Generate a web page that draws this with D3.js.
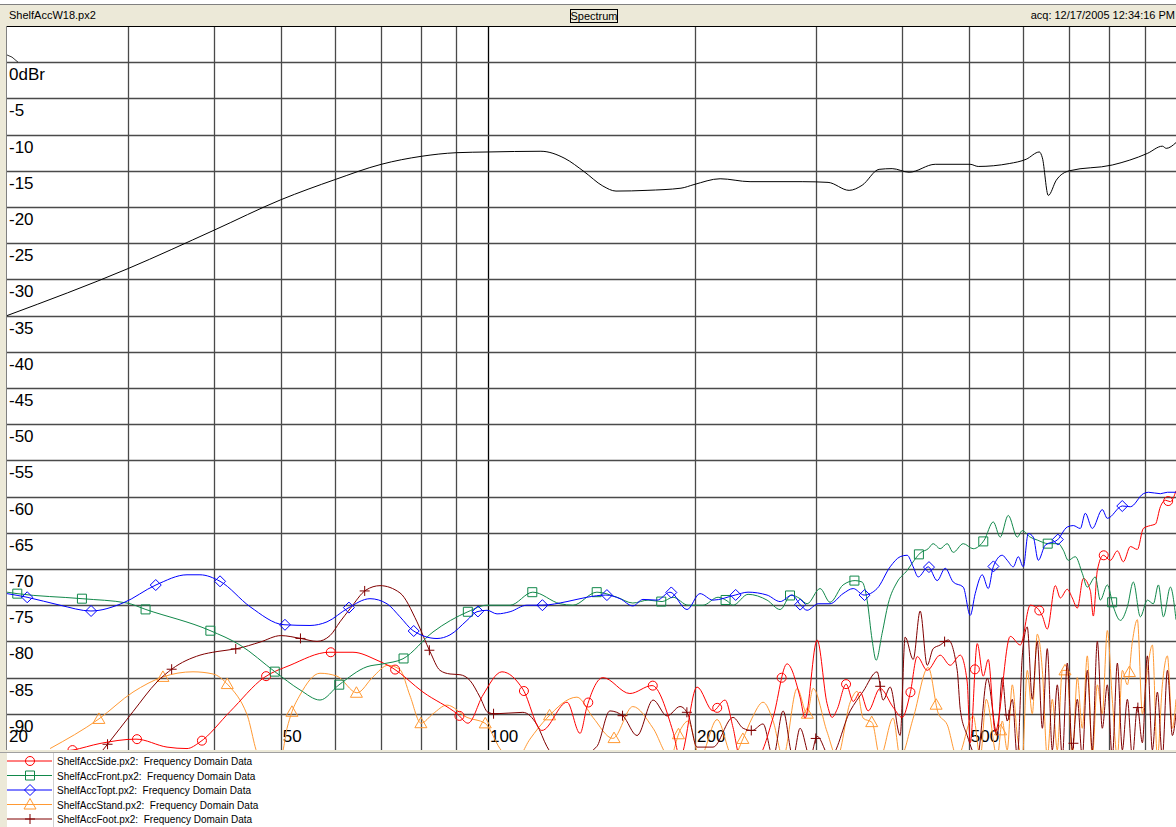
<!DOCTYPE html>
<html>
<head>
  <title>ShelfAccW18 Spectrum</title>
  <script src="https://d3js.org/d3.v7.min.js"></script>
  <style>
    body { margin: 0; background: #fff; }
    text { font-family: "Liberation Sans", Arial, sans-serif; white-space: pre; }
  </style>
</head>
<body>
  <div id="chart"></div>
  <script>
    // grid / tick values
    const gridFreqs = [30, 40, 50, 60, 70, 80, 90, 100, 200, 300, 400, 500, 600, 700, 800, 900];
    const freqLabels = [20, 50, 100, 200, 500];
    const dbTicks = [0, -5, -10, -15, -20, -25, -30, -35, -40, -45, -50, -55, -60, -65, -70, -75, -80, -85, -90];

    // reference trace (black, no legend entry)
    const refFreq = [20, 30, 40, 50, 60, 70, 80, 90, 100, 119.4, 129.4, 137.9, 146.9, 153.5, 170.3, 190.8, 199.3, 217.5, 240.4, 286.2, 312.1, 334.9, 349.8, 370.3, 386.8, 409.4, 446.7, 502, 515.9, 572.3, 605.9, 633, 639.4, 652.2, 669.9, 699.7, 808, 908.6, 955.4, 968, 1000];
    const refDb = [-35.0, -28.5, -23.2, -19.0, -16.2, -14.1, -13.0, -12.5, -12.4, -12.3, -13.3, -15.1, -17.1, -17.8, -17.7, -17.4, -16.9, -16.1, -16.5, -16.5, -16.6, -17.7, -17.0, -14.8, -14.7, -15.2, -14.1, -14.1, -14.4, -14.0, -13.4, -12.4, -13.2, -18.4, -16.3, -15.0, -14.2, -12.6, -11.6, -11.9, -11.1];

    // ShelfAccSide (red)
    const sideFreq = [22.33, 23.64, 24.94, 27.30, 30.80, 34.17, 36.53, 38.15, 42.18, 47.26, 51.56, 58.75, 63.66, 68.99, 72.77, 80.46, 90.46, 93.54, 98.36, 104.8, 112.4, 119.8, 130.3, 136.1, 139.3, 146.9, 160.8, 173.2, 185.8, 190.2, 201.3, 212.4, 221.1, 227.1, 232.5, 246.1, 259.7, 272.1, 284.2, 289.0, 300.9, 311.1, 316.4, 321.7, 331.6, 339.5, 347.5, 356.9, 371.5, 388.1, 399.9, 410.8, 420.6, 434.9, 454.2, 469.7, 485.8, 497.2, 502.3, 514.2, 524.6, 533.5, 546.1, 574.3, 593.9, 614.0, 628.6, 639.4, 650, 667.7, 679, 695, 706.8, 718.7, 733.3, 750.7, 758.3, 768.5, 784.1, 802.7, 821.8, 838.4, 858.4, 878.7, 896.5, 917.8, 933.3, 949.1, 965.1, 981.4, 1000];
    const sideDb = [-96.5, -95.3, -95.0, -94.1, -93.5, -94.6, -94.8, -93.9, -89.7, -85.0, -83.3, -81.5, -81.5, -82.6, -83.7, -87.0, -90.1, -91.3, -87.4, -84.2, -86.6, -92.3, -88.4, -92.7, -89.0, -85.0, -87.2, -86.1, -92.5, -96.0, -86.3, -89.6, -88.1, -91.9, -96.0, -96.0, -90.5, -83.1, -87.7, -90.6, -79.8, -88.6, -90.5, -89.4, -85.9, -88.3, -87.0, -89.6, -86.5, -89.1, -90.5, -87.2, -82.1, -84.0, -81.9, -83.3, -81.9, -85.6, -94.0, -80.3, -84.8, -82.5, -92.5, -79.3, -80.5, -75.0, -75.4, -76.5, -78.3, -72.3, -74.0, -72.8, -74.0, -75.4, -71.3, -73.0, -76.5, -70.2, -68.1, -68.8, -67.5, -69.0, -66.9, -67.3, -64.4, -64.0, -63.8, -61.4, -60.5, -60.7, -59.2];

    // ShelfAccFront (green)
    const frontFreq = [20, 20.68, 25.71, 29.89, 31.84, 39.45, 43.62, 49.04, 53.32, 57.01, 60.75, 66.72, 70.38, 75.25, 83.2, 93.54, 99.69, 107.7, 116.2, 127.3, 132.9, 144.0, 154.0, 162.4, 170.9, 179.1, 185.8, 195.4, 205.4, 216.0, 222.6, 227.1, 238.8, 254.5, 265.9, 275.8, 284.2, 291.0, 303.9, 314.2, 328.2, 341.7, 349.8, 355.7, 361.7, 366.6, 374.0, 381.7, 393.3, 406.7, 417.8, 424.8, 436.4, 443.7, 454.2, 465, 474.5, 490.7, 507.3, 526.4, 542.5, 555.3, 570.4, 587.9, 597.9, 614.0, 628.6, 652.2, 674.5, 685.8, 697.3, 713.9, 730.8, 743.2, 763.4, 776.2, 794.7, 810.8, 830.1, 849.8, 867, 887.5, 908.6, 927, 942.8, 958.7, 981.4, 1000];
    const frontDb = [-73.2, -73.4, -74.1, -74.7, -75.6, -78.5, -80.5, -84.2, -86.7, -88.1, -86.0, -83.5, -83.1, -82.4, -78.7, -75.9, -75.0, -75.0, -73.2, -74.8, -75.0, -73.2, -73.9, -74.7, -74.3, -74.5, -73.9, -75.0, -75.0, -73.9, -74.4, -75.0, -73.5, -74.3, -75.6, -73.6, -74.1, -74.8, -72.7, -74.6, -72.2, -71.6, -71.8, -74.3, -79.8, -82.6, -78.9, -74.8, -71.8, -70.2, -68.6, -67.8, -67.2, -66.5, -67.2, -66.5, -67.7, -66.5, -67.2, -66.0, -63.5, -65.6, -62.6, -65.6, -64.7, -65.6, -66.0, -66.5, -66.5, -67.4, -68.8, -68.3, -70.6, -72.5, -71.1, -74.3, -72.2, -75.2, -77.1, -75.2, -71.8, -76.6, -74.3, -74.8, -72.2, -76.6, -72.5, -77.0];

    // ShelfAccTopt (blue)
    const toptFreq = [20, 21.39, 23.88, 26.49, 29.48, 32.93, 36.53, 38.15, 40.80, 45.10, 50.54, 55.13, 58.36, 62.61, 67.39, 71.33, 74.50, 77.81, 84.33, 88.08, 93.23, 96.41, 99.69, 103.1, 107.7, 113.9, 119.8, 130.3, 139.3, 148.4, 155.6, 162.4, 168.0, 176.1, 183.9, 194.7, 203.3, 212.4, 228.7, 238.8, 254.5, 265.9, 276.7, 284.2, 291.0, 301.9, 314.2, 328.2, 339.5, 352.1, 367.8, 384.2, 397.3, 406.7, 415, 422, 436.4, 449.7, 461.9, 474.5, 490.7, 502.3, 510.7, 522.9, 533.5, 542.5, 559.1, 568.5, 580.1, 589.9, 599.9, 609.9, 620.3, 630.7, 645.7, 672.2, 695, 709.1, 726, 738.2, 755.7, 781.4, 794.7, 835.6, 858.4, 896.5, 911.7, 949.1, 971.6, 1000];
    const toptDb = [-73.4, -73.9, -75.0, -75.8, -74.7, -72.2, -70.8, -70.8, -71.7, -75.2, -77.7, -77.8, -77.3, -75.4, -74.1, -74.8, -76.6, -78.5, -79.6, -79.1, -77.1, -75.9, -75.7, -76.2, -75.9, -75.0, -75.0, -74.5, -73.9, -73.6, -74.1, -75.1, -74.2, -74.3, -73.2, -75.6, -73.4, -74.3, -73.6, -73.2, -73.6, -74.5, -73.6, -74.9, -75.7, -74.8, -74.8, -73.4, -72.7, -73.6, -72.7, -69.7, -68.3, -68.1, -69.7, -71.1, -69.7, -71.6, -69.9, -71.8, -72.5, -76.4, -73.4, -70.8, -72.7, -69.7, -68.1, -68.8, -69.7, -68.3, -69.7, -65.1, -65.6, -68.8, -66.7, -66.0, -64.2, -64.0, -64.4, -62.3, -64.4, -61.8, -63.0, -61.3, -61.4, -59.6, -59.4, -59.6, -59.4, -59.4];

    // ShelfAccStand (orange)
    const standFreq = [23.10, 27.21, 30.49, 33.71, 37.27, 39.85, 41.90, 44.65, 46.64, 50, 51.05, 51.91, 53.32, 57.01, 60.34, 64.52, 68.07, 71.57, 74.50, 77.04, 79.93, 83.2, 87.20, 93.23, 99.02, 104.1, 108.8, 115.1, 121.8, 134.7, 142.1, 151.9, 162.4, 173.8, 183.9, 190.2, 195.4, 203.3, 215.3, 227.1, 234.9, 242, 251.1, 259.7, 268.5, 281.4, 291.0, 296.9, 311.1, 321.7, 336.1, 344.0, 351.0, 361.7, 371.5, 388.1, 397.3, 415.0, 436.4, 451.2, 465, 480.9, 507.3, 519.4, 530, 549.8, 559.1, 568.5, 578.2, 587.9, 597.9, 607.9, 618.2, 628.6, 639.4, 650, 661, 672.2, 683.6, 695, 706.8, 718.7, 730.8, 743.2, 755.7, 768.5, 781.4, 794.7, 808, 821.8, 835.6, 849.8, 864.2, 878.7, 893.6, 908.6, 924, 939.6, 955.4, 971.6, 988, 1000];
    const standDb = [-94.8, -90.7, -87.0, -84.9, -84.2, -84.5, -86.0, -90.1, -96.0, -96.0, -92.0, -89.7, -87.4, -84.4, -84.8, -87.1, -84.9, -83.3, -83.9, -87.5, -91.3, -90.0, -88.8, -90.5, -91.3, -94.8, -97.0, -93.5, -90.6, -87.7, -90.5, -93.4, -89.0, -92.0, -96.0, -92.3, -91.0, -96.0, -90.8, -96.0, -93.4, -90.6, -88.4, -91.0, -96.0, -86.5, -90.0, -86.5, -92.5, -96.0, -88.4, -86.9, -90.6, -91.2, -96.0, -90.6, -96.0, -90.6, -83.6, -89.9, -91.5, -96.0, -90.3, -96.0, -88.0, -96.0, -91.0, -95.0, -86.0, -93.0, -96.0, -84.0, -90.0, -79.0, -84.0, -96.0, -88.0, -95.0, -84.0, -84.0, -96.0, -85.0, -92.0, -82.0, -96.0, -86.0, -90.0, -78.5, -88.0, -96.0, -84.0, -86.0, -80.0, -77.0, -90.0, -84.0, -80.5, -96.0, -86.0, -82.0, -92.0, -88.0];

    // ShelfAccFoot (dark red)
    const footFreq = [27.30, 27.95, 30.49, 33.04, 34.75, 38.15, 40.39, 43.18, 46.64, 50, 53.50, 56.44, 58.95, 60.95, 63.03, 66.5, 69.69, 74.50, 78.87, 82.37, 85.18, 88.08, 91.07, 94.17, 97.38, 100, 102.4, 112.4, 117.8, 121.8, 128.6, 144, 150.4, 157.1, 164.7, 173.8, 182.1, 190.2, 195.4, 201.3, 212.4, 227.1, 234.9, 242, 251.1, 259.7, 268.5, 277.6, 284.2, 294, 300.9, 314.2, 336.1, 351.0, 367.8, 375.3, 384.2, 397.3, 404.0, 415.0, 424.8, 434.9, 443.7, 454.2, 466.6, 480.9, 485.8, 497.2, 514.2, 531.7, 549.8, 559.1, 568.5, 578.2, 587.9, 597.9, 607.9, 618.2, 628.6, 639.4, 650, 661, 672.2, 683.6, 695, 706.8, 718.7, 730.8, 743.2, 755.7, 768.5, 781.4, 794.7, 808, 821.8, 835.6, 849.8, 864.2, 878.7, 893.6, 908.6, 924, 939.6, 955.4, 971.6, 988, 1000];
    const footDb = [-95.5, -94.3, -89.7, -85.6, -83.8, -81.9, -81.4, -81.0, -80.1, -79.2, -79.6, -80.0, -79.2, -77.3, -75.5, -72.9, -72.3, -73.3, -77.3, -81.4, -84.0, -84.5, -84.6, -85.4, -87.7, -89.8, -90.0, -89.8, -91.5, -94.5, -97.0, -94.5, -89.6, -90.3, -93.0, -88.1, -90.3, -89.0, -90.1, -94.6, -94.6, -90.5, -92.0, -92.3, -91.4, -96.0, -89.6, -96.0, -92.0, -96.0, -93.1, -96.0, -89.6, -86.9, -84.2, -88.1, -86.3, -93.0, -79.4, -82.5, -75.8, -83.3, -81.0, -80.5, -79.8, -84.0, -89.4, -93.0, -96.0, -85.1, -93.0, -85.0, -91.0, -88.0, -96.0, -82.0, -78.0, -88.0, -80.0, -92.0, -81.0, -95.0, -86.0, -96.0, -83.0, -95.0, -88.0, -96.0, -84.0, -95.0, -80.0, -92.0, -86.0, -96.0, -83.0, -95.0, -88.0, -96.0, -89.0, -94.0, -82.0, -95.0, -87.0, -96.0, -84.0, -93.0, -90.0];

    // marker frequencies (every ~0.094 decade, offset per trace)
    const sideMarks = [20.1, 24.9, 30.9, 38.4, 47.6, 59.1, 73.3, 90.9, 112.8, 139.9, 173.6, 215.4, 267.2, 331.5, 411.2, 510.2, 632.9, 785.2, 974.1];
    const frontMarks = [20.7, 25.7, 31.8, 39.5, 49.0, 60.8, 75.4, 93.5, 116.0, 143.9, 178.6, 221.5, 274.8, 340.9, 423.0, 524.7, 651.0, 807.6];
    const toptMarks = [21.4, 26.5, 32.9, 40.8, 50.7, 62.8, 78.0, 96.7, 120.0, 148.9, 184.7, 229.1, 284.3, 352.7, 437.5, 542.8, 673.4, 835.4];
    const standMarks = [21.9, 27.2, 33.7, 41.8, 51.9, 64.4, 79.9, 99.1, 122.9, 152.5, 189.2, 234.7, 291.2, 361.2, 448.1, 556.0, 689.7, 855.7];
    const footMarks = [22.6, 28.0, 34.7, 43.0, 53.4, 66.2, 82.2, 101.9, 126.5, 156.9, 194.6, 241.4, 299.5, 371.6, 461.0, 571.9, 709.5, 880.2];

    const series = [
      {name: "ShelfAccSide.px2:  Frequency Domain Data", freq: sideFreq, db: sideDb, marks: sideMarks, color: "#ff0000", symbol: "circle"},
      {name: "ShelfAccFront.px2:  Frequency Domain Data", freq: frontFreq, db: frontDb, marks: frontMarks, color: "#11884a", symbol: "square"},
      {name: "ShelfAccTopt.px2:  Frequency Domain Data", freq: toptFreq, db: toptDb, marks: toptMarks, color: "#0000ff", symbol: "diamond"},
      {name: "ShelfAccStand.px2:  Frequency Domain Data", freq: standFreq, db: standDb, marks: standMarks, color: "#ff9933", symbol: "triangle"},
      {name: "ShelfAccFoot.px2:  Frequency Domain Data", freq: footFreq, db: footDb, marks: footMarks, color: "#800000", symbol: "cross"}
    ];

    const W = 1176, H = 827;
    const plot = {left: 7, right: 1176, top: 26, bottom: 750};

    const svg = d3.select("#chart").append("svg")
      .attr("width", W).attr("height", H);

    // window chrome
    svg.append("rect").attr("x", 0).attr("y", 0).attr("width", W).attr("height", H).attr("fill", "#ece9d8");
    svg.append("rect").attr("x", 0).attr("y", 0).attr("width", W).attr("height", 4).attr("fill", "#fff");
    svg.append("line").attr("x1", 0).attr("x2", W).attr("y1", 4.5).attr("y2", 4.5).attr("stroke", "#808080");

    svg.append("text").attr("x", 9).attr("y", 19).attr("font-size", 11).text("ShelfAccW18.px2");
    svg.append("rect").attr("x", 570.5).attr("y", 9.5).attr("width", 47).attr("height", 13)
      .attr("fill", "none").attr("stroke", "#000");
    svg.append("text").attr("x", 594).attr("y", 20).attr("font-size", 11).attr("text-anchor", "middle").text("Spectrum");
    svg.append("text").attr("x", 1175).attr("y", 19).attr("font-size", 11).attr("text-anchor", "end")
      .text("acq: 12/17/2005 12:34:16 PM");

    // plot background
    svg.append("rect").attr("x", plot.left).attr("y", plot.top)
      .attr("width", plot.right - plot.left).attr("height", plot.bottom - plot.top).attr("fill", "#fff");
    svg.append("line").attr("x1", plot.left - 0.5).attr("x2", plot.left - 0.5)
      .attr("y1", plot.top).attr("y2", plot.bottom).attr("stroke", "#808080");

    const x = d3.scaleLog().domain([20, 1000]).range([plot.left, plot.right]);
    const y = d3.scaleLinear().domain([5, -95]).range([plot.top, plot.bottom]);

    // grid
    const grid = svg.append("g");
    grid.selectAll(".vg").data(gridFreqs).enter().append("line")
      .attr("x1", d => Math.round(x(d)) + 0.5).attr("x2", d => Math.round(x(d)) + 0.5)
      .attr("y1", plot.top).attr("y2", plot.bottom)
      .attr("stroke", d => d === 100 ? "#000" : "#4a4a4a").attr("stroke-width", 1.3);
    grid.selectAll(".hg").data(dbTicks).enter().append("line")
      .attr("x1", plot.left).attr("x2", plot.right)
      .attr("y1", d => Math.round(y(d)) + 0.5).attr("y2", d => Math.round(y(d)) + 0.5)
      .attr("stroke", "#4a4a4a").attr("stroke-width", 1.3);
    grid.append("line").attr("x1", plot.left).attr("x2", plot.right)
      .attr("y1", plot.top + 0.5).attr("y2", plot.top + 0.5).attr("stroke", "#000");

    // small reference mark at top-left
    svg.append("path")
      .attr("d", `M${x(20)},${y(1)} L${x(20) + 5},${y(0.7)} L${x(20) + 11},${y(0)}`)
      .attr("fill", "none").attr("stroke", "#000").attr("stroke-width", 0.8);

    // axis labels
    svg.append("g").selectAll("text").data(dbTicks).enter().append("text")
      .attr("x", plot.left + 2).attr("y", d => y(d) + 18)
      .attr("font-size", 17)
      .text(d => d === 0 ? "0dBr" : d);
    svg.append("g").selectAll("text").data(freqLabels).enter().append("text")
      .attr("x", d => x(d) + 2).attr("y", 742)
      .attr("font-size", 17)
      .text(d => d);

    // traces
    svg.append("clipPath").attr("id", "clip").append("rect")
      .attr("x", plot.left).attr("y", plot.top)
      .attr("width", plot.right - plot.left).attr("height", plot.bottom - plot.top);
    const traces = svg.append("g").attr("clip-path", "url(#clip)");

    const line = d3.line().x(d => x(d[0])).y(d => y(d[1])).curve(d3.curveMonotoneX);

    function symbolPath(type, cx, cy) {
      if (type === "circle") return `M${cx - 4.5},${cy} a4.5,4.5 0 1,0 9,0 a4.5,4.5 0 1,0 -9,0`;
      if (type === "square") return `M${cx - 4.5},${cy - 4.5} h9 v9 h-9 Z`;
      if (type === "diamond") return `M${cx},${cy - 5.5} L${cx + 5.5},${cy} L${cx},${cy + 5.5} L${cx - 5.5},${cy} Z`;
      if (type === "triangle") return `M${cx},${cy - 6} L${cx + 6},${cy + 4.5} L${cx - 6},${cy + 4.5} Z`;
      return `M${cx - 5},${cy} H${cx + 5} M${cx},${cy - 5} V${cy + 5}`;
    }

    // find the point of a drawn path at a given x
    function pointAtX(node, px) {
      const total = node.getTotalLength();
      let lo = 0, hi = total;
      for (let i = 0; i < 40; i++) {
        const mid = (lo + hi) / 2;
        if (node.getPointAtLength(mid).x < px) lo = mid; else hi = mid;
      }
      return node.getPointAtLength((lo + hi) / 2);
    }

    const refPts = refFreq.map((f, i) => [f, refDb[i]]);
    traces.append("path").attr("d", line(refPts))
      .attr("fill", "none").attr("stroke", "#000").attr("stroke-width", 1);

    // draw in an order so blue/green sit above the low traces
    const order = [3, 4, 0, 1, 2];
    order.forEach(k => {
      const s = series[k];
      const pts = s.freq.map((f, i) => [f, s.db[i]]);
      const p = traces.append("path").attr("d", line(pts))
        .attr("fill", "none").attr("stroke", s.color).attr("stroke-width", 1);
      const node = p.node();
      const minX = x(s.freq[0]), maxX = x(s.freq[s.freq.length - 1]);
      s.marks.forEach(f => {
        const px = x(f);
        if (px < minX || px > maxX) return;
        const pt = pointAtX(node, px);
        traces.append("path").attr("d", symbolPath(s.symbol, pt.x, pt.y))
          .attr("fill", "none").attr("stroke", s.color).attr("stroke-width", 1);
      });
    });

    // legend
    const legTop = 753;
    svg.append("rect").attr("x", plot.left).attr("y", legTop)
      .attr("width", W - plot.left).attr("height", H - legTop).attr("fill", "#fff");
    svg.append("line").attr("x1", 0).attr("x2", W).attr("y1", legTop - 0.5).attr("y2", legTop - 0.5).attr("stroke", "#a0a0a0");
    svg.append("line").attr("x1", 53.5).attr("x2", 53.5).attr("y1", legTop).attr("y2", H).attr("stroke", "#d0d0d0");

    const leg = svg.append("g").selectAll("g").data(series).enter().append("g");
    leg.append("line")
      .attr("x1", plot.left).attr("x2", 52)
      .attr("y1", (d, i) => 761 + i * 14.5).attr("y2", (d, i) => 761 + i * 14.5)
      .attr("stroke", d => d.color).attr("stroke-width", 1);
    leg.append("path")
      .attr("d", (d, i) => symbolPath(d.symbol, 30, 761 + i * 14.5))
      .attr("fill", "none").attr("stroke", d => d.color);
    leg.append("text")
      .attr("x", 57).attr("y", (d, i) => 765 + i * 14.5)
      .attr("font-size", 10)
      .text(d => d.name);
  </script>
</body>
</html>
